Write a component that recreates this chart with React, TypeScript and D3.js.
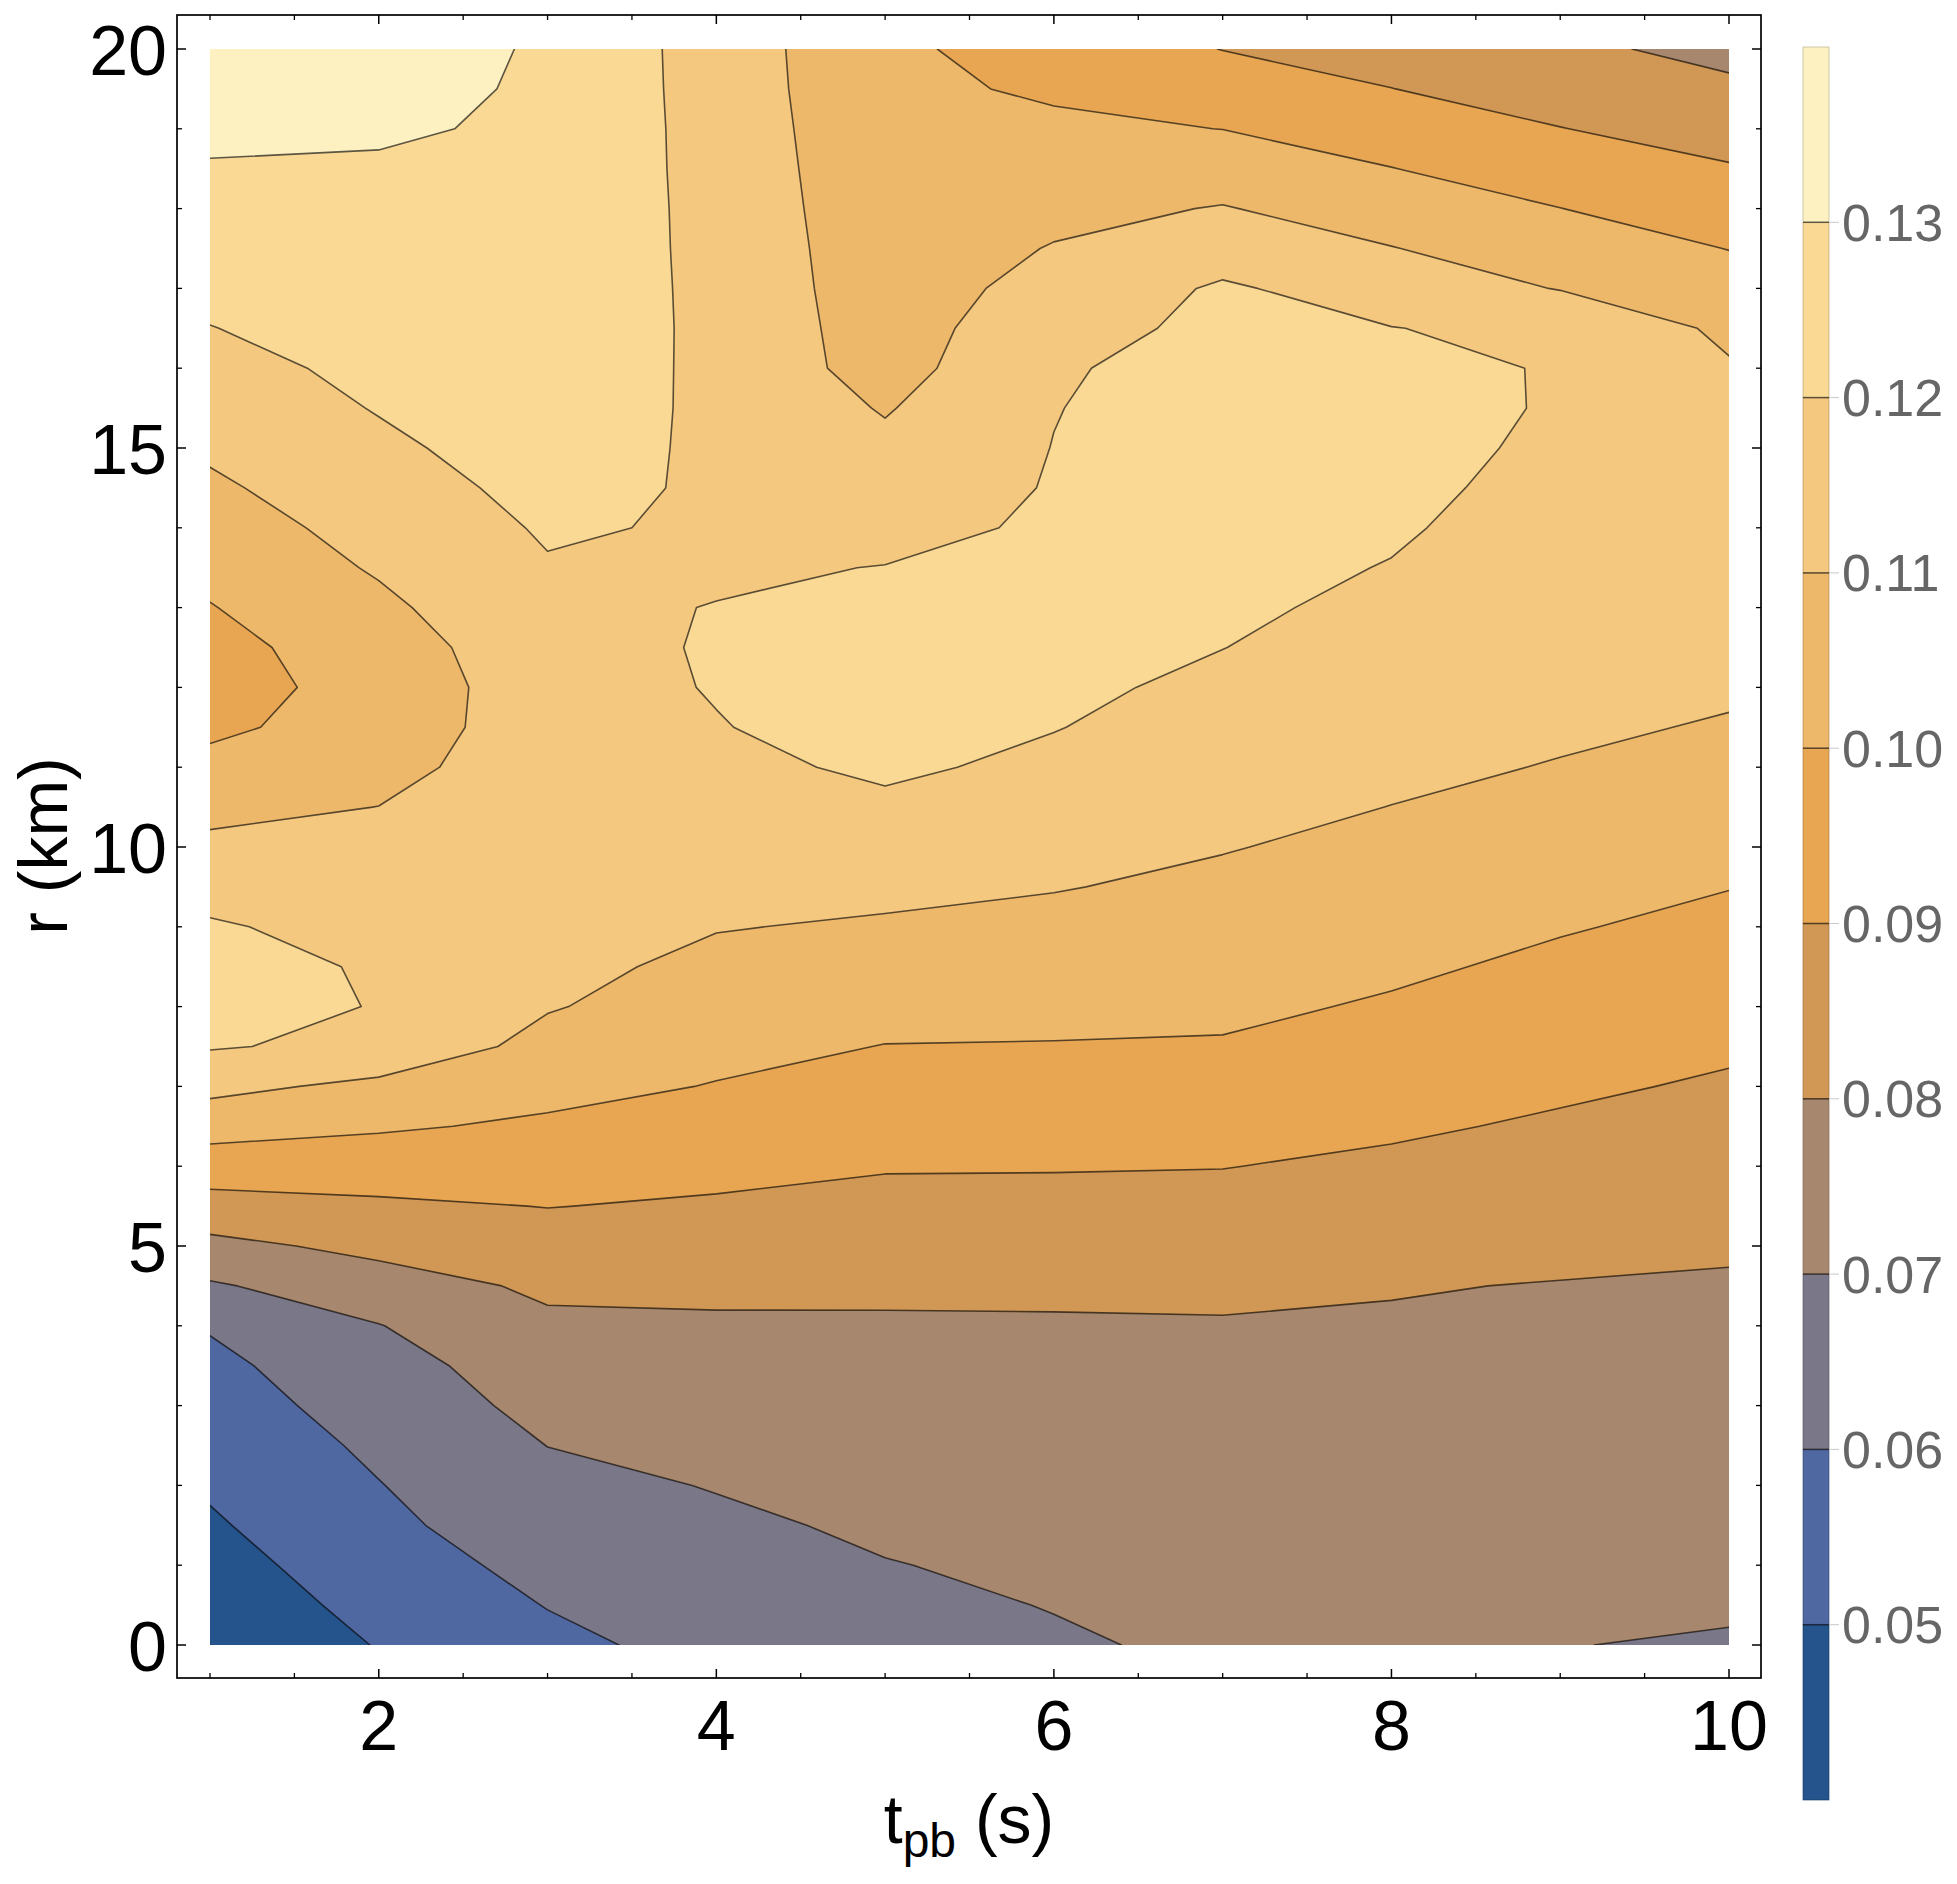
import React from 'react';
import * as d3 from 'd3';

const W = 1957;
const H = 1884;

// grid axes
const tValues = [1, 2, 3, 4, 5, 6, 7, 8, 9, 10];
const rValues = [0, 0.5, 1, 1.5, 2, 2.5, 3, 3.5, 4, 4.5, 5, 5.5, 6, 6.5, 7, 7.5, 8, 8.5, 9, 9.5, 10,
  10.5, 11, 11.5, 12, 12.5, 13, 13.5, 14, 14.5, 15, 15.5, 16, 16.5, 17, 17.5, 18, 18.5, 19, 19.5, 20];

// values along r (0..20 step 0.5) for each t column
const zT1 = [0.0410, 0.0436, 0.0462, 0.0488, 0.0512, 0.0535, 0.0557, 0.0579, 0.0607, 0.0689, 0.0774,
  0.0863, 0.0951, 0.1039, 0.1127, 0.1207, 0.1243, 0.1249, 0.1210, 0.1166, 0.1120, 0.1074, 0.1022,
  0.0985, 0.0970, 0.0975, 0.0996, 0.1025, 0.1055, 0.1085, 0.1114, 0.1142, 0.1170, 0.1198, 0.1222,
  0.1246, 0.1270, 0.1294, 0.1317, 0.1338, 0.1360];
const zT2 = [0.0505, 0.0532, 0.0557, 0.0580, 0.0597, 0.0617, 0.0640, 0.0660, 0.0697, 0.0757, 0.0825,
  0.0885, 0.0948, 0.1011, 0.1076, 0.1179, 0.1195, 0.1186, 0.1167, 0.1145, 0.1123, 0.1101, 0.1065,
  0.1035, 0.1028, 0.1043, 0.1079, 0.1110, 0.1134, 0.1158, 0.1182, 0.1205, 0.1222, 0.1236, 0.1250,
  0.1264, 0.1278, 0.1292, 0.1309, 0.1328, 0.1345];
const zT3 = [0.0578, 0.0603, 0.0627, 0.0652, 0.0676, 0.0701, 0.0728, 0.0756, 0.0783, 0.0816, 0.0859,
  0.0902, 0.0944, 0.0986, 0.1027, 0.1067, 0.1107, 0.1125, 0.1140, 0.1150, 0.1155, 0.1158, 0.1162,
  0.1162, 0.1163, 0.1175, 0.1185, 0.1193, 0.1210, 0.1228, 0.1245, 0.1258, 0.1268, 0.1275, 0.1280,
  0.1283, 0.1285, 0.1287, 0.1289, 0.1288, 0.1289];
const zT4 = [0.0630, 0.0648, 0.0667, 0.0685, 0.0704, 0.0725, 0.0746, 0.0768, 0.0789, 0.0817, 0.0853,
  0.0889, 0.0925, 0.0960, 0.0996, 0.1024, 0.1051, 0.1078, 0.1104, 0.1122, 0.1141, 0.1159, 0.1178,
  0.1196, 0.1205, 0.1206, 0.1202, 0.1190, 0.1190, 0.1188, 0.1183, 0.1180, 0.1177, 0.1175, 0.1172,
  0.1169, 0.1167, 0.1164, 0.1162, 0.1160, 0.1158];
const zT5 = [0.0665, 0.0681, 0.0697, 0.0713, 0.0728, 0.0744, 0.0760, 0.0775, 0.0791, 0.0814, 0.0844,
  0.0875, 0.0906, 0.0937, 0.0967, 0.0998, 0.1028, 0.1059, 0.1090, 0.1120, 0.1152, 0.1183, 0.1215,
  0.1235, 0.1245, 0.1240, 0.1228, 0.1202, 0.1175, 0.1148, 0.1121, 0.1093, 0.1060, 0.1054, 0.1048,
  0.1044, 0.1038, 0.1033, 0.1027, 0.1020, 0.1017];
const zT6 = [0.0690, 0.0703, 0.0715, 0.0728, 0.0741, 0.0754, 0.0767, 0.0780, 0.0793, 0.0813, 0.0844,
  0.0874, 0.0905, 0.0935, 0.0966, 0.0996, 0.1024, 0.1051, 0.1077, 0.1104, 0.1129, 0.1155, 0.1180,
  0.1203, 0.1218, 0.1228, 0.1230, 0.1222, 0.1212, 0.1206, 0.1202, 0.1197, 0.1190, 0.1165, 0.1135,
  0.1105, 0.1075, 0.1046, 0.1016, 0.0988, 0.0962];
const zT7 = [0.0715, 0.0725, 0.0735, 0.0745, 0.0755, 0.0765, 0.0775, 0.0785, 0.0795, 0.0814, 0.0843,
  0.0873, 0.0902, 0.0933, 0.0963, 0.0993, 0.1017, 0.1039, 0.1061, 0.1083, 0.1104, 0.1123, 0.1142,
  0.1162, 0.1181, 0.1201, 0.1215, 0.1228, 0.1238, 0.1245, 0.1248, 0.1245, 0.1235, 0.1222, 0.1212,
  0.1156, 0.1105, 0.1053, 0.0999, 0.0951, 0.0898];
const zT8 = [0.0725, 0.0733, 0.0742, 0.0750, 0.0759, 0.0767, 0.0776, 0.0784, 0.0793, 0.0804, 0.0831,
  0.0858, 0.0885, 0.0912, 0.0938, 0.0965, 0.0991, 0.1014, 0.1036, 0.1057, 0.1079, 0.1099, 0.1116,
  0.1132, 0.1148, 0.1164, 0.1180, 0.1196, 0.1212, 0.1225, 0.1232, 0.1228, 0.1215, 0.1202, 0.1154,
  0.1103, 0.1053, 0.1002, 0.0952, 0.0901, 0.0866];
const zT9 = [0.0702, 0.0712, 0.0723, 0.0734, 0.0744, 0.0755, 0.0765, 0.0776, 0.0787, 0.0797, 0.0818,
  0.0841, 0.0865, 0.0889, 0.0913, 0.0936, 0.0959, 0.0983, 0.1006, 0.1028, 0.1051, 0.1073, 0.1096,
  0.1112, 0.1125, 0.1135, 0.1142, 0.1148, 0.1155, 0.1168, 0.1182, 0.1193, 0.1196, 0.1178, 0.1096,
  0.1049, 0.1001, 0.0951, 0.0902, 0.0861, 0.0820];
const zT10 = [0.0692, 0.0710, 0.0717, 0.0728, 0.0739, 0.0750, 0.0761, 0.0771, 0.0782, 0.0793, 0.0808,
  0.0829, 0.0849, 0.0870, 0.0890, 0.0912, 0.0934, 0.0957, 0.0980, 0.1002, 0.1025, 0.1048, 0.1071,
  0.1094, 0.1110, 0.1120, 0.1128, 0.1133, 0.1135, 0.1133, 0.1128, 0.1120, 0.1108, 0.1082, 0.1040,
  0.0998, 0.0953, 0.0907, 0.0863, 0.0818, 0.0773];

const levels = [0.05, 0.06, 0.07, 0.08, 0.09, 0.10, 0.11, 0.12, 0.13];
const barRange = [0.04, 0.14];
const bandColors = ['#24548b', '#5068a1', '#7a7788', '#a7886e', '#d09755', '#e8a653', '#eeb86b',
  '#f5c880', '#fad995', '#fdf1c1'];
const cbLabels = ['0.05', '0.06', '0.07', '0.08', '0.09', '0.10', '0.11', '0.12', '0.13'];

const xMajor = [2, 4, 6, 8, 10];
const xMinor = [1, 1.5, 2.5, 3, 3.5, 4.5, 5, 5.5, 6.5, 7, 7.5, 8.5, 9, 9.5];
const yMajor = [0, 5, 10, 15, 20];
const yMinor = [1, 2, 3, 4, 6, 7, 8, 9, 11, 12, 13, 14, 16, 17, 18, 19];

const FONT = "'Liberation Sans', Arial, Helvetica, sans-serif";

function detectOffset(): number {
  const test = d3.contours().size([2, 1]).thresholds([0.5])([0, 1]);
  let minX = Infinity;
  test[0].coordinates.forEach((poly: any) =>
    poly.forEach((ring: any) => ring.forEach((p: any) => { if (p[0] < minX) minX = p[0]; })));
  return minX - 0.5;
}

export default function App() {
  const columns = [zT1, zT2, zT3, zT4, zT5, zT6, zT7, zT8, zT9, zT10];
  const nx = tValues.length;
  const ny = rValues.length;
  const px = nx + 2;
  const py = ny + 2;
  const padded: number[] = new Array(px * py);
  for (let j = 0; j < py; j++) {
    for (let i = 0; i < px; i++) {
      const ci = Math.min(nx - 1, Math.max(0, i - 1));
      const cj = Math.min(ny - 1, Math.max(0, j - 1));
      padded[j * px + i] = columns[ci][cj];
    }
  }
  const offset = detectOffset();

  const L = 210, R = 1729, T = 49, B = 1645;
  const x = d3.scaleLinear().domain([1, 10]).range([L, R]);
  const y = d3.scaleLinear().domain([0, 20]).range([B, T]);
  const tStep = tValues[1] - tValues[0];
  const rStep = rValues[1] - rValues[0];
  const proj = d3.geoTransform({
    point: function (cx: number, cy: number) {
      (this as any).stream.point(
        x(tValues[0] + (cx - offset - 1) * tStep),
        y(rValues[0] + (cy - offset - 1) * rStep)
      );
    },
  });
  const path = d3.geoPath(proj as any);
  const contours = d3.contours().size([px, py]).thresholds(levels)(padded);

  const cb = d3.scaleLinear().domain(barRange).range([1800, 47]);
  const cbL = 1803, cbR = 1829;

  const fL = 177, fR = 1761, fT = 15, fB = 1678;
  const lineColor = 'rgba(0,0,0,0.64)';

  return (
    <svg width={W} height={H} style={{ position: 'absolute', left: 0, top: 0, background: '#fff' }}
      fontFamily={FONT}>
      <defs>
        <clipPath id="dataClip">
          <rect x={L} y={T} width={R - L} height={B - T} />
        </clipPath>
      </defs>
      <rect x={0} y={0} width={W} height={H} fill="#fff" />
      <g clipPath="url(#dataClip)">
        <rect x={L} y={T} width={R - L} height={B - T} fill={bandColors[0]} />
        {contours.map((c: any, k: number) => (
          <path key={'f' + k} d={path(c) || ''} fill={bandColors[k + 1]} stroke={bandColors[k + 1]}
            strokeWidth={0.6} />
        ))}
        {contours.map((c: any, k: number) => (
          <path key={'s' + k} d={path(c) || ''} fill="none" stroke={lineColor} strokeWidth={1.6}
            strokeLinejoin="round" />
        ))}
      </g>

      {/* frame */}
      <rect x={fL} y={fT} width={fR - fL} height={fB - fT} fill="none" stroke="#000" strokeWidth={1.7} />
      {xMajor.map((v) => (
        <g key={'xM' + v}>
          <line x1={x(v)} x2={x(v)} y1={fB} y2={fB - 9} stroke="#000" strokeWidth={1.5} />
          <line x1={x(v)} x2={x(v)} y1={fT} y2={fT + 9} stroke="#000" strokeWidth={1.5} />
          <text x={x(v)} y={1750} fontSize={70} textAnchor="middle" fill="#000">{String(v)}</text>
        </g>
      ))}
      {xMinor.map((v) => (
        <g key={'xm' + v}>
          <line x1={x(v)} x2={x(v)} y1={fB} y2={fB - 5} stroke="#000" strokeWidth={1.3} />
          <line x1={x(v)} x2={x(v)} y1={fT} y2={fT + 5} stroke="#000" strokeWidth={1.3} />
        </g>
      ))}
      {yMajor.map((v) => (
        <g key={'yM' + v}>
          <line x1={fL} x2={fL + 9} y1={y(v)} y2={y(v)} stroke="#000" strokeWidth={1.5} />
          <line x1={fR} x2={fR - 9} y1={y(v)} y2={y(v)} stroke="#000" strokeWidth={1.5} />
          <text x={167} y={y(v) + 25.5} fontSize={70} textAnchor="end" fill="#000">{String(v)}</text>
        </g>
      ))}
      {yMinor.map((v) => (
        <g key={'ym' + v}>
          <line x1={fL} x2={fL + 5} y1={y(v)} y2={y(v)} stroke="#000" strokeWidth={1.3} />
          <line x1={fR} x2={fR - 5} y1={y(v)} y2={y(v)} stroke="#000" strokeWidth={1.3} />
        </g>
      ))}

      {/* axis titles */}
      <text transform="translate(67,846) rotate(-90)" fontSize={68} textAnchor="middle" fill="#000">r (km)</text>
      <text x={969} y={1843} fontSize={68} textAnchor="middle" fill="#000" style={{ whiteSpace: 'pre' }}>
        t<tspan fontSize={48} dy={14}>pb</tspan><tspan fontSize={68} dy={-14}> (s)</tspan>
      </text>

      {/* colour bar */}
      {bandColors.map((col, k) => {
        const lo = barRange[0] + k * 0.01;
        const hi = lo + 0.01;
        return (
          <rect key={'cb' + k} x={cbL} y={cb(hi)} width={cbR - cbL} height={cb(lo) - cb(hi)} fill={col}
            stroke={col} strokeWidth={0.5} />
        );
      })}
      <rect x={cbL} y={cb(barRange[1])} width={cbR - cbL} height={cb(barRange[0]) - cb(barRange[1])}
        fill="none" stroke="rgba(0,0,0,0.18)" strokeWidth={1} />
      {levels.map((lv, k) => (
        <g key={'cbt' + k}>
          <line x1={cbL} x2={cbR} y1={cb(lv)} y2={cb(lv)} stroke={lineColor} strokeWidth={1.5} />
          <line x1={cbR} x2={cbR + 10} y1={cb(lv)} y2={cb(lv)} stroke="#c8c8c8" strokeWidth={1} />
          <text x={1842} y={cb(lv) + 18.5} fontSize={52} fill="#666">{cbLabels[k]}</text>
        </g>
      ))}
    </svg>
  );
}
